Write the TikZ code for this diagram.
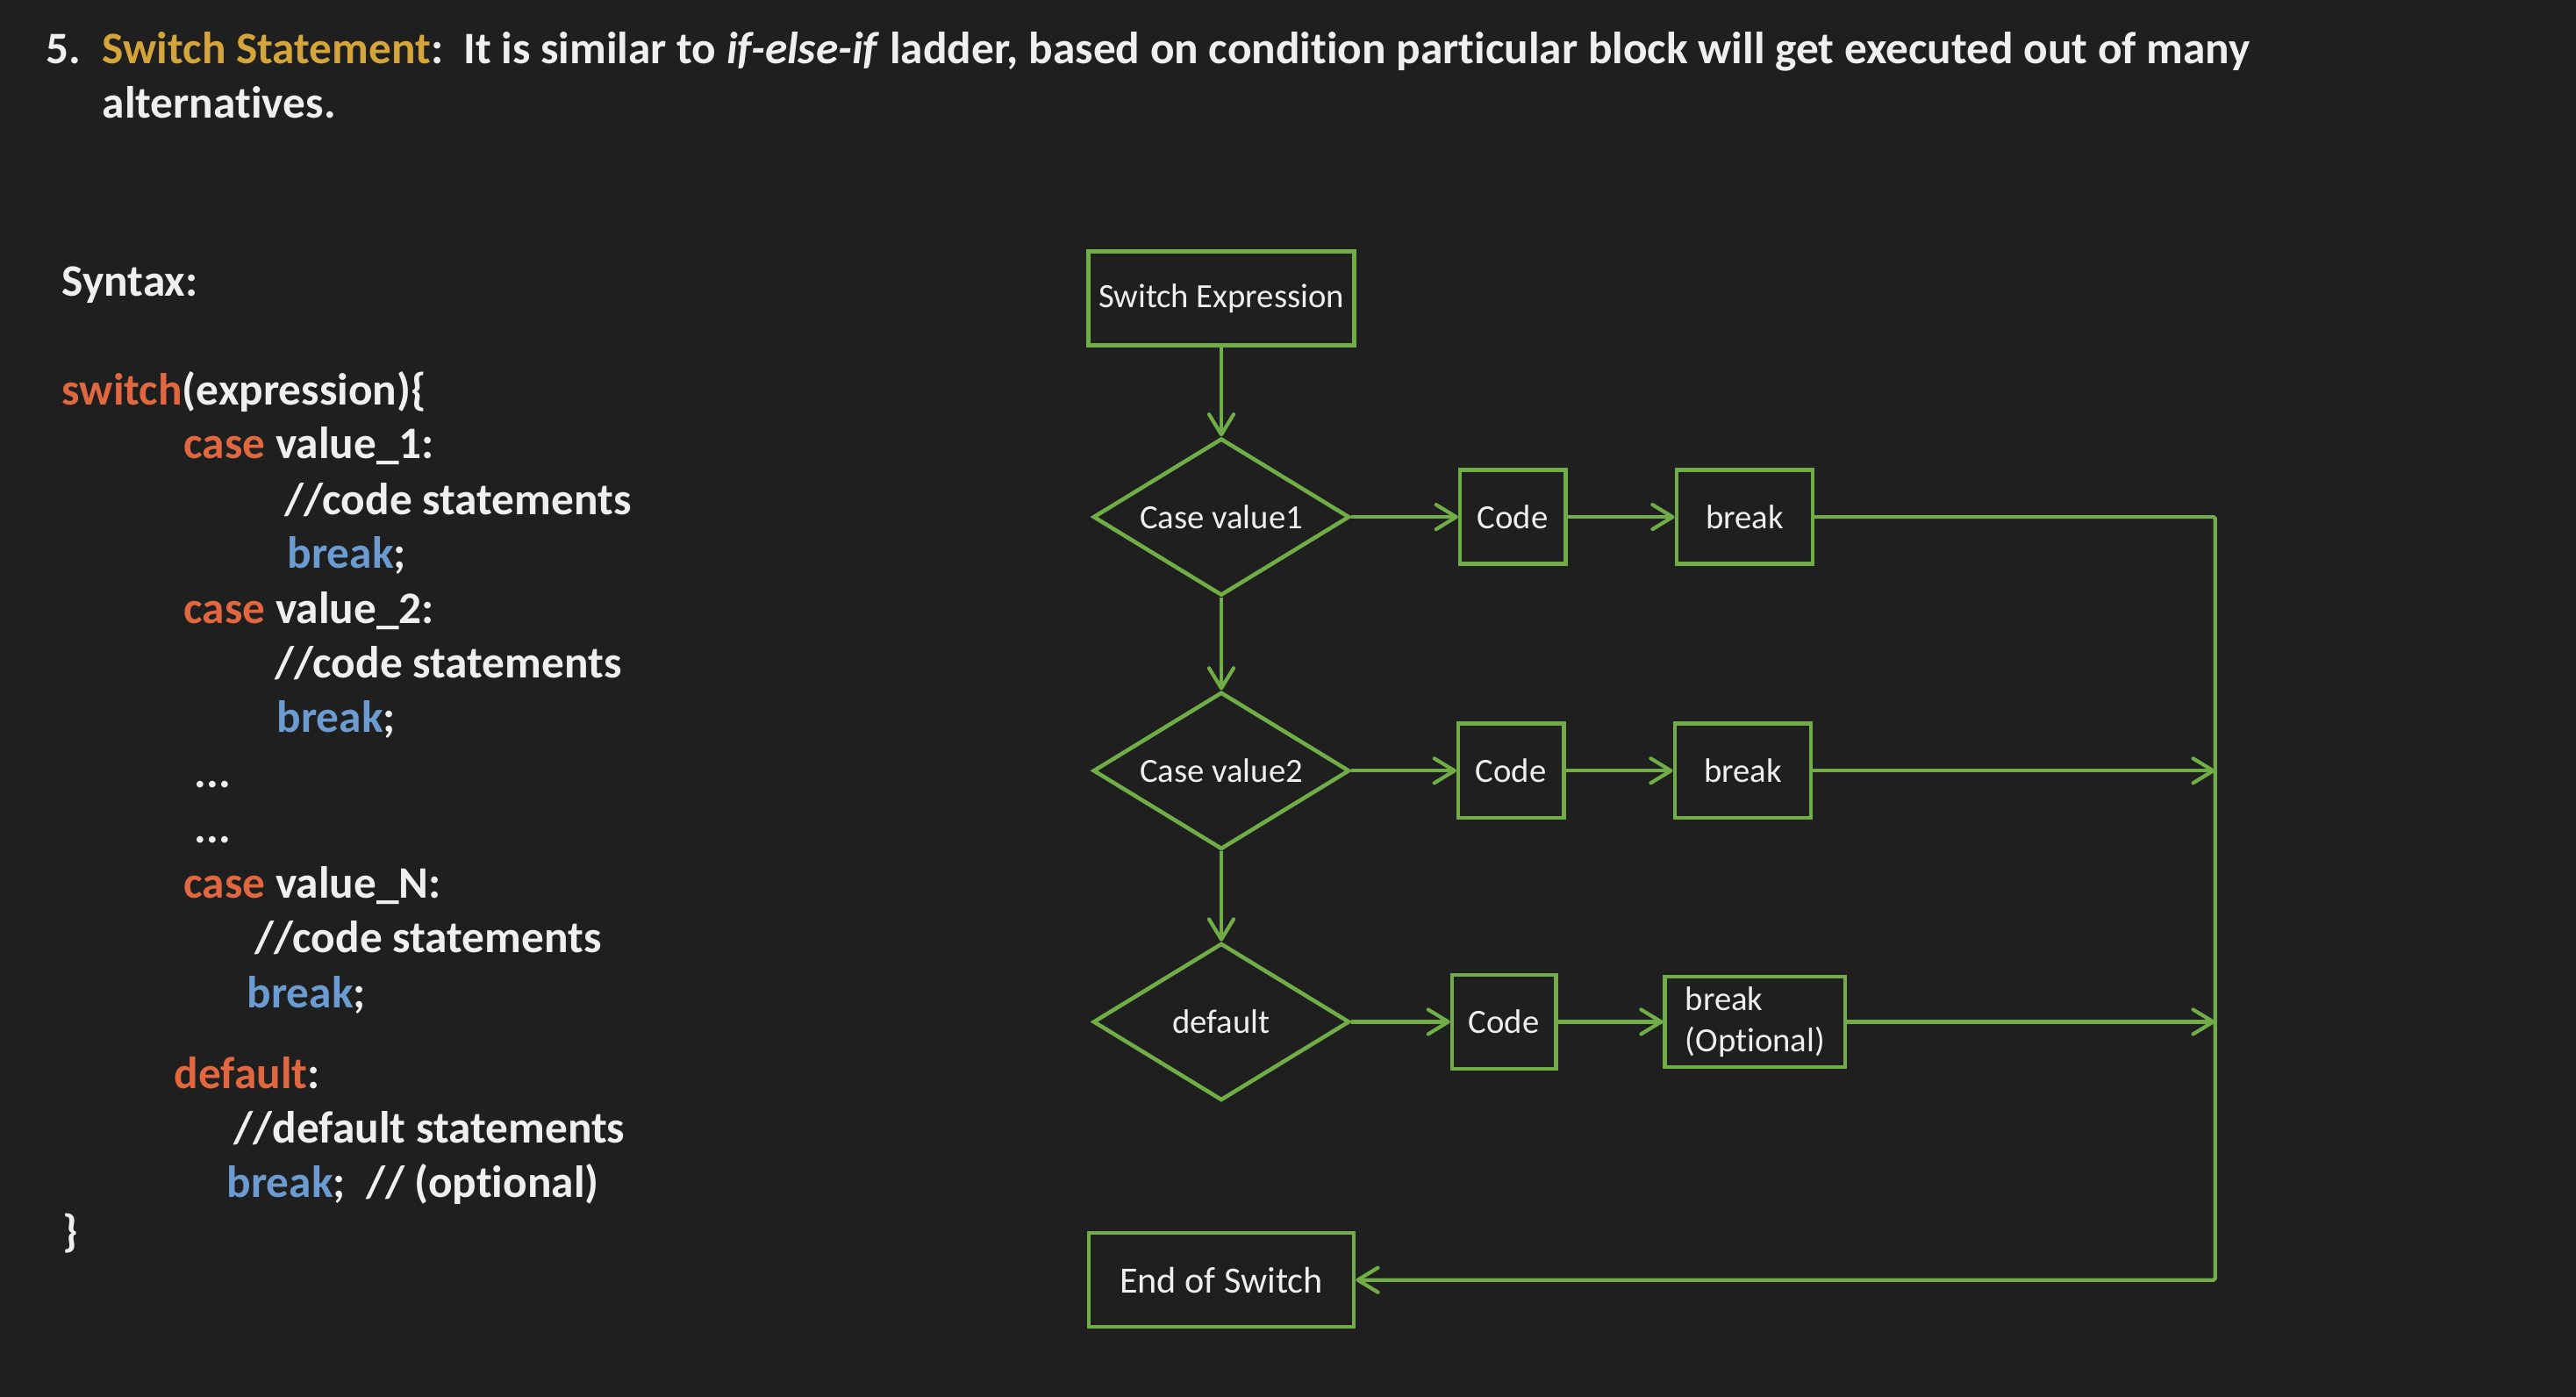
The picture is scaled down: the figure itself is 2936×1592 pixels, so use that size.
\documentclass[tikz,border=0pt]{standalone}
\usepackage{fontspec}
\setmainfont{Carlito}[Ligatures=CommonOff]
\usepackage{tikz}
\usetikzlibrary{shapes.geometric,arrows.meta}
\definecolor{bg}{HTML}{1F1F1F}
\definecolor{txt}{HTML}{EFEFEF}
\definecolor{gold}{HTML}{D4A53A}
\definecolor{kwred}{HTML}{E0673F}
\definecolor{kwblue}{HTML}{6B9BD1}
\definecolor{grn}{HTML}{70AD47}
\newcommand{\kwd}[1]{\textcolor{kwred}{#1}}
\newcommand{\kwb}[1]{\textcolor{kwblue}{#1}}
\tikzstyle{code} = [anchor=base west, inner sep=0pt, text=txt, font=\fontsize{14.6}{17.7}\selectfont\bfseries]
\tikzstyle{block} = [draw=grn, line width=1.3pt, rectangle, minimum height=1.07cm, text=txt, font=\fontsize{11}{13.3}\selectfont]
\tikzstyle{decision} = [draw=grn, line width=1.3pt, diamond, aspect=1.63, minimum width=2.92cm, minimum height=1.79cm, inner sep=0pt, text=txt, font=\fontsize{11}{13.3}\selectfont]
\tikzstyle{joint} = [coordinate]
\tikzstyle{line} = [draw=grn, line width=1.2pt]

\begin{document}
\begin{tikzpicture}[x=0.01cm, y=-0.01cm, node distance=2.89cm, >={Straight Barb[length=2.3mm,width=2.8mm,round]}]
    \fill [bg] (0,0) rectangle (2936,1592);
    % Heading
    \node [code] (num) at (52,73) {5.};
    \node [code] (title1) at (116,73) {\textcolor{gold}{Switch Statement}:\ \ It is similar to \textit{if-else-if} ladder, based on condition particular block will get executed out of many};
    \node [code] (title2) at (116,135) {alternatives.};
    % Syntax listing
    \node [code] (syntax) at (70,338) {Syntax:};
    \node [code] (l1) at (70,462) {\kwd{switch}(expression)\{};
    \node [code] (l2) at (209,523) {\kwd{case} value\_1:};
    \node [code] (l3) at (324,587) {//code statements};
    \node [code] (l4) at (327,648) {\kwb{break};};
    \node [code] (l5) at (209,711) {\kwd{case} value\_2:};
    \node [code] (l6) at (313,773) {//code statements};
    \node [code] (l7) at (315,835) {\kwb{break};};
    \node [code] (l8) at (221,898) {...};
    \node [code] (l9) at (221,961) {...};
    \node [code] (l10) at (209,1024) {\kwd{case} value\_N:};
    \node [code] (l11) at (290,1086) {//code statements};
    \node [code] (l12) at (281,1148) {\kwb{break};};
    \node [code] (l13) at (198,1240) {\kwd{default}:};
    \node [code] (l14) at (266,1302) {//default statements};
    \node [code] (l15) at (258,1364) {\kwb{break};\ \ // (optional)};
    \node [code] (l16) at (71,1420) {\}};
    % Define the nodes
    \node [block, minimum width=3.03cm] (sw) at (1392,340) {Switch Expression};
    \node [decision, below of=sw, node distance=2.49cm] (case1) {Case value1};
    \node [decision, below of=case1] (case2) {Case value2};
    \node [decision, below of=case2, node distance=2.86cm] (dflt) {default};
    \node [block, minimum width=3.02cm, font=\fontsize{12}{14}\selectfont, below of=dflt, node distance=2.94cm] (endsw) {End of Switch};
    \node [block, minimum width=1.2cm, right of=case1, node distance=3.32cm] (code1) {Code};
    \node [block, minimum width=1.55cm, right of=code1, node distance=2.64cm] (brk1) {break};
    \node [block, minimum width=1.2cm, right of=case2, node distance=3.3cm] (code2) {Code};
    \node [block, minimum width=1.55cm, right of=code2, node distance=2.64cm] (brk2) {break};
    \node [block, minimum width=1.18cm, right of=dflt, node distance=3.22cm] (code3) {Code};
    \node [block, minimum width=1.95cm, minimum height=0.93cm, inner xsep=2.3mm, align=left, right of=code3, node distance=2.86cm] (brk3) {break\\(Optional)};
    \node [joint, right of=brk1, node distance=5.36cm] (j1) {};
    \node [joint, right of=brk2, node distance=5.38cm] (j2) {};
    \node [joint, right of=brk3, node distance=5.24cm] (j3) {};
    % Connect the nodes
    \draw [line, ->] (sw) -- (case1);
    \draw [line, ->] (case1) -- (case2);
    \draw [line, ->] (case2) -- (dflt);
    \draw [line, ->] (case1) -- (code1);
    \draw [line, ->] (code1) -- (brk1);
    \draw [line, ->] (case2) -- (code2);
    \draw [line, ->] (code2) -- (brk2);
    \draw [line, ->] (dflt) -- (code3);
    \draw [line, ->] (code3) -- (brk3);
    \draw [line, ->] (brk2) -- (j2);
    \draw [line, ->] (brk3) -- (j3);
    \draw [line, ->, rounded corners=0.5pt] (brk1) -- (j1) |- (endsw);
\end{tikzpicture}
\end{document}
